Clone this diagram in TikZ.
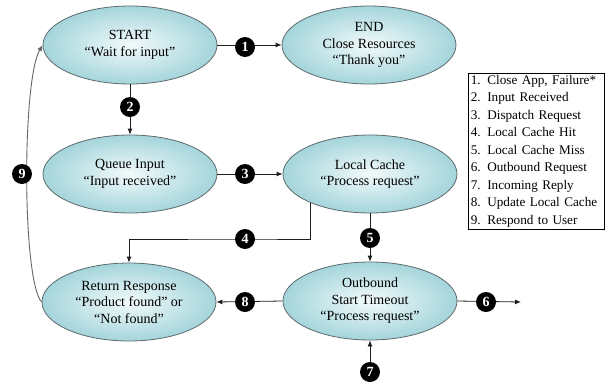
\documentclass[tikz,border=0pt]{standalone}
\usepackage{fontspec}
\setmainfont{Liberation Serif}
\usetikzlibrary{shapes.geometric,arrows.meta}
\definecolor{edgeteal}{HTML}{A4D5DB}
\definecolor{midteal}{HTML}{F2FAFB}
\definecolor{rimgray}{HTML}{5E6A6D}
\definecolor{linegray}{HTML}{1E1E1E}
\tikzset{
  statebox/.style={ellipse, draw=rimgray, line width=0.8pt, inner color=midteal, outer color=edgeteal,
    minimum width=174pt, minimum height=78pt, inner sep=0pt, align=center,
    font=\fontsize{14}{16.5}\selectfont},
  badge/.style={circle, fill=black, text=white, minimum size=20pt, inner sep=0pt,
    font=\fontsize{14}{14}\selectfont\bfseries},
  conn/.style={draw=linegray, line width=0.8pt, -{Latex[length=6pt,width=5pt]}},
  back/.style={draw=black!60, line width=0.9pt, -{Latex[length=6pt,width=5pt]}},
  legendbox/.style={draw=black, line width=0.6pt, anchor=north west, align=left, inner xsep=2.5pt, inner ysep=2pt,
    text width=131pt, font=\fontsize{13.2}{17.5}\selectfont}
}
\begin{document}
\begin{tikzpicture}[x=1pt,y=-1pt]
\useasboundingbox (0,0) rectangle (611,381);
% states
\node[statebox] (start) at (130,45) {START\\“Wait for input”};
\node[statebox] (endn) at (369,45) {END\\Close Resources\\“Thank you”};
\node[statebox] (queue) at (130,174) {Queue Input\\“Input received”};
\node[statebox] (lc) at (370,174) {Local Cache\\“Process request”};
\node[statebox] (rr) at (129,302) {Return Response\\“Product found” or\\“Not found”};
\node[statebox] (ob) at (370,301) {Outbound\\Start Timeout\\“Process request”};
% badge positions
\coordinate (c1) at (245,47);
\coordinate (c2) at (130,107);
\coordinate (c3) at (245,174);
\coordinate (c4) at (245,239);
\coordinate (c5) at (370,238);
\coordinate (c6) at (486,302);
\coordinate (c7) at (370,372);
\coordinate (c8) at (245,302);
\coordinate (c9) at (22,174);
\coordinate (out6) at (521,302);
% connectors
\draw[conn] (start.east) -- (endn.west);
\draw[conn] (start.south) -- (queue.north);
\draw[conn] (queue.east) -- (lc.west);
\draw[conn] (lc.206) |- (c4) -| (rr.north);
\draw[conn] (lc.south) -- (ob.north);
\draw[conn] (ob.east) -- (out6);
\draw[conn] (c7) -- (ob.south);
\draw[conn] (ob.west) -- (rr.east);
\draw[back] (rr.west) .. controls (22,280) and (22,80) .. (start.west);
% badges
\node[badge] (b1) at (c1) {1};
\node[badge] (b2) at (c2) {2};
\node[badge] (b3) at (c3) {3};
\node[badge] (b4) at (c4) {4};
\node[badge] (b5) at (c5) {5};
\node[badge] (b6) at (c6) {6};
\node[badge] (b7) at (c7) {7};
\node[badge] (b8) at (c8) {8};
\node[badge] (b9) at (c9) {9};
% legend
\node[legendbox] (legend) at (468,73) {1. Close App, Failure*\\2. Input Received\\3. Dispatch Request\\4. Local Cache Hit\\5. Local Cache Miss\\6. Outbound Request\\7. Incoming Reply\\8. Update Local Cache\\9. Respond to User};
\end{tikzpicture}
\end{document}
